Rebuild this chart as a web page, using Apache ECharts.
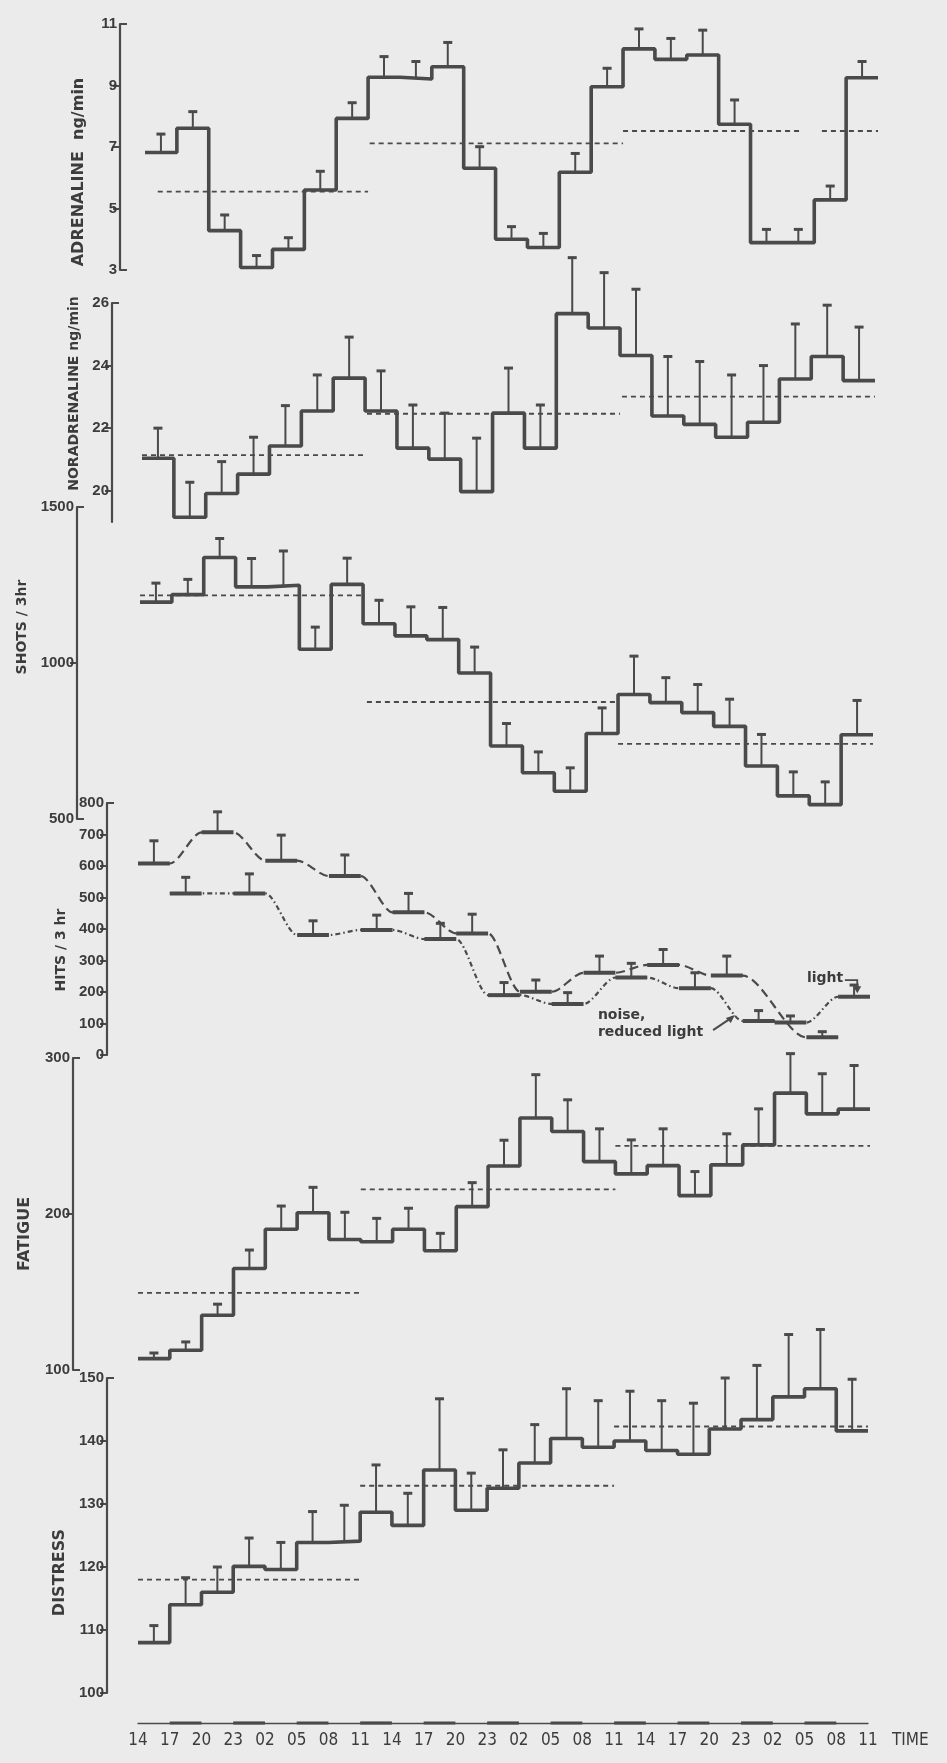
<!DOCTYPE html>
<html><head><meta charset="utf-8">
<script src="https://cdn.jsdelivr.net/npm/echarts@6/dist/echarts.min.js"></script>
<style>html,body{margin:0;padding:0;background:#ebebeb}#c{width:947px;height:1763px}</style>
</head><body><div id="c"></div>
<script>
// ---------- data ----------
const timeLabels = ['14','17','20','23','02','05','08','11','14','17','20','23','02','05','08','11','14','17','20','23','02','05','08','11'];
const nightBars = [1,3,5,7,9,11,13,15,17,19,21];

const adrenaline    = [6.82,7.61,4.28,3.08,3.67,5.60,7.93,9.27,9.21,9.61,6.31,4.00,3.73,6.18,8.96,10.19,9.85,9.99,7.74,3.89,3.89,5.28,9.25];
const adrenalineErr = [7.42,8.15,4.79,3.47,4.05,6.21,8.44,9.94,9.78,10.40,7.01,4.41,4.19,6.79,9.56,10.84,10.53,10.80,8.53,4.32,4.32,5.73,9.78];
const adrenalineMean = [[0.4,7.0,5.55],[7.05,15,7.12],[15,20.55,7.52],[21.24,23,7.52]];

const noradrenaline    = [21.04,19.15,19.91,20.53,21.43,22.55,23.60,22.55,21.36,21.01,19.97,22.48,21.36,25.66,25.20,24.32,22.39,22.12,21.71,22.19,23.57,24.29,23.52];
const noradrenalineErr = [22.00,20.27,20.93,21.71,22.72,23.70,24.91,23.83,22.74,22.48,21.68,23.92,22.74,27.45,26.97,26.44,24.29,24.13,23.70,24.00,25.33,25.93,25.23];
const noradrenalineMean = [[0,7.06,21.14],[7.06,15,22.46],[15.06,23,23.01]];

const shots    = [1195,1219,1338,1244,1249,1044,1252,1126,1087,1075,968,734,648,589,774,899,873,841,797,670,574,546,770];
const shotsErr = [1256,1268,1399,1335,1359,1115,1336,1201,1180,1178,1051,806,715,664,856,1022,953,931,884,771,651,619,880];
const shotsMean = [[0,7,1217],[7.12,15,875],[15,23,741]];

const hitsAIdx = [0,2,4,6,8,10,12,14,16,18,21];
const hitsAVal = [608,707,617,568,453,386,201,261,286,252,56];
const hitsAErr = [680,772,698,635,513,447,238,314,335,314,74];
const hitsBIdx = [1,3,5,7,9,11,13,15,17,19,20,22];
const hitsBVal = [513,513,381,397,368,190,162,246,212,108,103,185];
const hitsBErr = [564,575,426,444,418,230,198,291,261,141,124,222];

const fatigue    = [107.3,112.7,135.1,165.1,190.2,200.8,183.7,182.2,190.2,176.4,204.7,230.8,261.5,252.9,233.6,225.7,231.0,211.8,231.5,244.3,277.5,264.2,267.2];
const fatigueErr = [110.9,118.0,142.2,176.9,205.1,217.1,201.1,197.2,203.7,187.6,220.1,247.3,289.3,273.2,254.6,247.5,254.6,227.2,251.4,267.4,302.8,289.9,295.2];
const fatigueMean = [[0,7,149.5],[7,15,215.8],[15,23,243.7]];

const distress    = [108.0,114.0,116.0,120.1,119.6,123.9,124.1,128.7,126.6,135.4,129.0,132.5,136.5,140.4,139.0,140.0,138.5,137.9,141.9,143.4,147.0,148.3,141.6];
const distressErr = [110.7,118.3,120.0,124.6,123.9,128.8,129.8,136.2,131.7,146.7,134.9,138.6,142.6,148.3,146.4,147.9,146.4,146.0,150.0,152.0,156.9,157.7,149.8];
const distressMean = [[0,7,118.0],[7,15,132.9],[15,23,142.3]];

// ---------- styling / layout ----------
const INK = '#4a4a4a';
const TXT = '#3c3c3c';
const FONT = "'Liberation Sans', 'DejaVu Sans', sans-serif";
const NFONT = "'DejaVu Sans', sans-serif";

const panels = [
  {top:24,  bottom:270,  left:145, right:878, axisX:120, min:3,   max:11,   labels:[3,5,7,9,11], mid:[5,7,9], caps:[3,11], name:'ADRENALINE  ng/min', nameSize:16, gap:33, shift:25,
   vals:adrenaline, errs:adrenalineErr, means:adrenalineMean},
  {top:303, bottom:522,  left:142, right:875, axisX:112, min:19,  max:26,   labels:[20,22,24,26], mid:[20,22,24], caps:[26], name:'NORADRENALINE ng/min', nameSize:14, gap:29, shift:-19,
   vals:noradrenaline, errs:noradrenalineErr, means:noradrenalineMean},
  {top:507, bottom:819,  left:140, right:873, axisX:77,  min:500, max:1500, labels:[500,1000,1500], mid:[1000], caps:[500,1500], name:'SHOTS / 3hr', nameSize:14, gap:41, shift:-36,
   vals:shots, errs:shotsErr, means:shotsMean},
  {top:803, bottom:1055, left:138, right:870, axisX:107, min:0,   max:800,  labels:[0,100,200,300,400,500,600,700,800], mid:[0,100,200,300,400,500,600,700], caps:[800], name:'HITS / 3 hr', nameSize:14, gap:37, shift:21},
  {top:1058,bottom:1370, left:138, right:870, axisX:73,  min:100, max:300,  labels:[100,200,300], mid:[200], caps:[100,300], name:'FATIGUE', nameSize:16, gap:40, shift:20,
   vals:fatigue, errs:fatigueErr, means:fatigueMean},
  {top:1378,bottom:1693, left:138, right:868, axisX:107, min:100, max:150,  labels:[100,110,120,130,140,150], mid:[100,110,120,130,140], caps:[150], name:'DISTRESS', nameSize:16, gap:39, shift:37,
   vals:distress, errs:distressErr, means:distressMean}
];

function errRender(params, api){
  const i = api.value(0), v = api.value(1), e = api.value(2);
  const p0 = api.coord([i+0.5, v]), p1 = api.coord([i+0.5, e]);
  return {type:'group', children:[
    {type:'line', shape:{x1:p0[0],y1:p0[1],x2:p1[0],y2:p1[1]}, style:{stroke:INK, lineWidth:2}},
    {type:'line', shape:{x1:p1[0]-4.5,y1:p1[1],x2:p1[0]+4.5,y2:p1[1]}, style:{stroke:INK, lineWidth:3}}
  ]};
}
function meanRender(params, api){
  const a = api.coord([api.value(0), api.value(2)]), b = api.coord([api.value(1), api.value(2)]);
  return {type:'line', shape:{x1:a[0],y1:a[1],x2:b[0],y2:b[1]}, style:{stroke:INK, lineWidth:1.8, lineDash:[5,4]}};
}
function plateauRender(params, api){
  const i = api.value(0), v = api.value(1);
  const a = api.coord([i, v]), b = api.coord([i+1, v]);
  return {type:'line', shape:{x1:a[0],y1:a[1],x2:b[0],y2:b[1]}, style:{stroke:INK, lineWidth:4}};
}

const grid = [], xAxis = [], yAxis = [], series = [];
panels.forEach((p, gi) => {
  grid.push({left:p.left, width:p.right-p.left, top:p.top, height:p.bottom-p.top});
  xAxis.push({gridIndex:gi, type:'value', min:0, max:23, show:false});
  const off = p.left - p.axisX;
  yAxis.push({
    gridIndex:gi, type:'value', min:p.min, max:p.max, position:'left', offset:off,
    axisLine:{show:true, onZero:false, lineStyle:{color:INK, width:2.2}},
    axisTick:{show:true, inside:false, length:7, customValues:p.mid, lineStyle:{color:INK, width:2}},
    axisLabel:{customValues:p.labels, formatter:v=>String(v), color:TXT, fontFamily:FONT, fontWeight:'bold', fontSize:15, margin:3},
    splitLine:{show:false},
    name:p.name, nameLocation:'middle', nameGap:p.gap,
    nameTextStyle:{color:TXT, fontFamily:NFONT, fontWeight:'bold', fontSize:p.nameSize,
      padding: p.shift > 0 ? [0, 2*p.shift, 0, 0] : [0, 0, 0, -2*p.shift]}
  });
  yAxis.push({
    gridIndex:gi, type:'value', min:p.min, max:p.max, position:'left', offset:off,
    axisLine:{show:false, onZero:false},
    axisTick:{show:true, inside:true, length:7, customValues:p.caps, lineStyle:{color:INK, width:2}},
    axisLabel:{show:false}, splitLine:{show:false}
  });
  const yi = 2*gi;
  if (p.vals) {
    const stepData = p.vals.map((v,k)=>[k,v]);
    stepData.push([p.vals.length, p.vals[p.vals.length-1]]);
    series.push({type:'line', xAxisIndex:gi, yAxisIndex:yi, step:'end', symbol:'none', data:stepData,
      lineStyle:{color:INK, width:3.6}, z:4, animation:false});
    series.push({type:'custom', xAxisIndex:gi, yAxisIndex:yi, renderItem:errRender,
      data:p.vals.map((v,k)=>[k,v,p.errs[k]]), encode:{x:0, y:[1,2]}, z:3, animation:false});
    series.push({type:'custom', xAxisIndex:gi, yAxisIndex:yi, renderItem:meanRender,
      data:p.means, encode:{x:[0,1], y:2}, z:2, animation:false});
  }
});

// hits panel (grid 3)
function hitsSeries(idx, vals, errs, dash){
  const line = [];
  idx.forEach((i,k)=>{ line.push([i, vals[k]]); line.push([i+1, vals[k]]); });
  series.push({type:'line', xAxisIndex:3, yAxisIndex:6, symbol:'none', data:line, smooth:0.3, smoothMonotone:'x',
    lineStyle:{color:INK, width:2.2, type:dash}, z:2, animation:false});
  series.push({type:'custom', xAxisIndex:3, yAxisIndex:6, renderItem:plateauRender,
    data:idx.map((i,k)=>[i, vals[k]]), encode:{x:0, y:1}, z:4, animation:false});
  series.push({type:'custom', xAxisIndex:3, yAxisIndex:6, renderItem:errRender,
    data:idx.map((i,k)=>[i, vals[k], errs[k]]), encode:{x:0, y:[1,2]}, z:3, animation:false});
}
hitsSeries(hitsAIdx, hitsAVal, hitsAErr, [9,5]);
hitsSeries(hitsBIdx, hitsBVal, hitsBErr, [5,3,1.5,3]);

// time axis (grid 6)
grid.push({left:138, width:730, top:1713, height:10});
xAxis.push({gridIndex:6, type:'value', min:0, max:23, interval:1,
  axisLine:{show:true, onZero:false, lineStyle:{color:INK, width:1.3}}, axisTick:{show:false}, splitLine:{show:false},
  axisLabel:{formatter:v=>timeLabels[v], color:TXT, fontFamily:"'DejaVu Sans Condensed', 'Liberation Sans Narrow', 'Liberation Sans', sans-serif", fontSize:17, margin:9, hideOverlap:false},
  name:'TIME', nameLocation:'end', nameGap:24,
  nameTextStyle:{color:TXT, fontFamily:"'DejaVu Sans Condensed', 'Liberation Sans', sans-serif", fontSize:17, verticalAlign:'top', padding:[9,0,0,0]}});
yAxis.push({gridIndex:6, type:'value', min:0, max:1, show:false});
series.push({type:'custom', xAxisIndex:6, yAxisIndex:12,
  renderItem:(params, api)=>{ const i = api.value(0); const a = api.coord([i,0]), b = api.coord([i+1,0]);
    return {type:'line', shape:{x1:a[0],y1:a[1],x2:b[0],y2:b[1]}, style:{stroke:INK, lineWidth:3.2}}; },
  data:nightBars.map(i=>[i,0]), encode:{x:0,y:1}, animation:false});

const chart = echarts.init(document.getElementById('c'), null, {renderer:'canvas'});
chart.setOption({backgroundColor:'#ebebeb', animation:false, grid, xAxis, yAxis, series});

// annotations in the hits panel, anchored in data coordinates
const P = (x,y)=>chart.convertToPixel({xAxisIndex:3, yAxisIndex:6}, [x,y]);
const t1 = P(14.45, 152), a1 = P(18.07, 79), a2 = P(18.69, 121);
const t2 = P(21.02, 238), l1 = P(22.21, 238), l2 = P(22.6, 238), l3 = P(22.6, 196);
chart.setOption({graphic:[
  {type:'text', x:t1[0], y:t1[1], style:{text:'noise,\nreduced light', fill:TXT, font:"bold 14px 'DejaVu Sans', sans-serif", lineHeight:17}},
  {type:'line', shape:{x1:a1[0],y1:a1[1],x2:a2[0],y2:a2[1]}, style:{stroke:INK, lineWidth:2}},
  {type:'polygon', shape:{points:[[a2[0]+2,a2[1]-2],[a2[0]-7,a2[1]+1],[a2[0]-2,a2[1]+6]]}, style:{fill:INK}},
  {type:'text', x:t2[0], y:t2[1]-9, style:{text:'light', fill:TXT, font:"bold 14px 'DejaVu Sans', sans-serif"}},
  {type:'polyline', shape:{points:[l1,l2,[l3[0],l3[1]-5]]}, style:{stroke:INK, lineWidth:1.8, fill:null}},
  {type:'polygon', shape:{points:[[l3[0]-4,l3[1]-7],[l3[0]+4,l3[1]-7],[l3[0],l3[1]]]}, style:{fill:INK}}
]});
</script></body></html>
